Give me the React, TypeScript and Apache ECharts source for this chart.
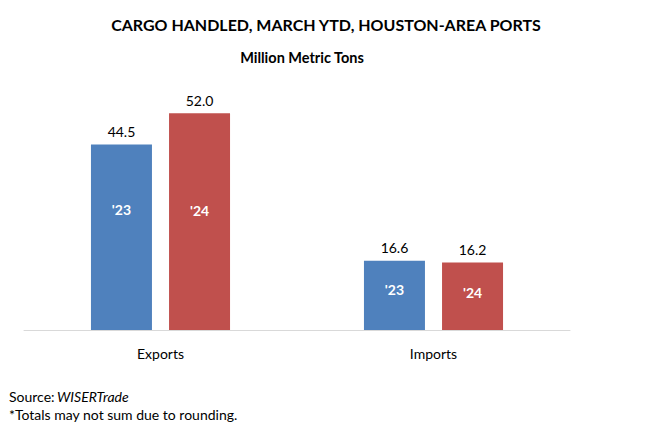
import React, { useEffect, useRef } from "react";
import * as echarts from "echarts";

const categories = ["Exports", "Imports"];
const values2023 = [44.5, 16.6];
const values2024 = [52.0, 16.2];
const seriesNames = ["'23", "'24"];
const innerPos23 = ["35%", "41%"];
const innerPos24 = ["45%", "45%"];

const FONT = "Lato, 'Open Sans', sans-serif";
const BLUE = "#4F81BD";
const RED = "#C0504D";

function barSeries(name: string, values: number[], color: string, stack: string, pos: string[]) {
  return [
    {
      name,
      type: "bar",
      stack,
      barWidth: 61,
      barGap: "28%",
      data: values.map((v, i) => ({
        value: v,
        label: { position: ["50%", pos[i]] },
      })),
      itemStyle: { color },
      label: {
        show: true,
        formatter: () => name,
        color: "#fff",
        fontFamily: FONT,
        fontWeight: "bold",
        fontSize: 14,
        align: "center",
        verticalAlign: "middle",
      },
    },
    {
      name: name + "-top",
      type: "bar",
      stack,
      barWidth: 61,
      barGap: "28%",
      data: values.map(() => 0),
      itemStyle: { color: "transparent" },
      label: {
        show: true,
        position: "top",
        distance: 6,
        formatter: (p: any) => values[p.dataIndex].toFixed(1),
        color: "#000",
        fontFamily: FONT,
        fontSize: 14,
      },
    },
  ];
}

export default function App() {
  const ref = useRef<HTMLDivElement>(null);
  useEffect(() => {
    if (!ref.current) return;
    const chart = echarts.init(ref.current, undefined, { renderer: "svg" });
    chart.setOption({
      animation: false,
      backgroundColor: "#fff",
      title: [
        {
          text: "CARGO HANDLED, MARCH YTD, HOUSTON-AREA PORTS",
          left: 321,
          top: 11,
          textAlign: "center",
          textStyle: { fontFamily: FONT, fontWeight: "bold", fontSize: 16, color: "#000" },
        },
        {
          text: "Million Metric Tons",
          left: 297,
          top: 45,
          textAlign: "center",
          textStyle: { fontFamily: FONT, fontWeight: "bold", fontSize: 14.5, color: "#000" },
        },
      ],
      graphic: [
        {
          type: "text",
          left: 9,
          top: 389,
          style: {
            text: "Source: ",
            font: `14px ${FONT}`,
            fill: "#000",
          },
        },
        {
          type: "text",
          left: 57,
          top: 389,
          style: {
            text: "WISERTrade",
            font: `italic 14px ${FONT}`,
            fill: "#000",
          },
        },
        {
          type: "text",
          left: 9,
          top: 407,
          style: {
            text: "*Totals may not sum due to rounding.",
            font: `14px ${FONT}`,
            fill: "#000",
          },
        },
      ],
      grid: { left: 24, right: 93, top: 80, bottom: 107, containLabel: false },
      xAxis: {
        type: "category",
        data: categories,
        axisLine: { lineStyle: { color: "#D9D9D9", width: 1 } },
        axisTick: { show: false },
        axisLabel: { fontFamily: FONT, fontSize: 14, color: "#000", margin: 16 },
      },
      yAxis: {
        type: "value",
        min: 0,
        max: 60,
        show: false,
        splitLine: { show: false },
      },
      series: [
        ...barSeries(seriesNames[0], values2023, BLUE, "a", innerPos23),
        ...barSeries(seriesNames[1], values2024, RED, "b", innerPos24),
      ],
    });
    return () => chart.dispose();
  }, []);
  return (
    <div
      ref={ref}
      style={{ position: "fixed", left: 0, top: 0, width: 663, height: 437, background: "#fff" }}
    />
  );
}
